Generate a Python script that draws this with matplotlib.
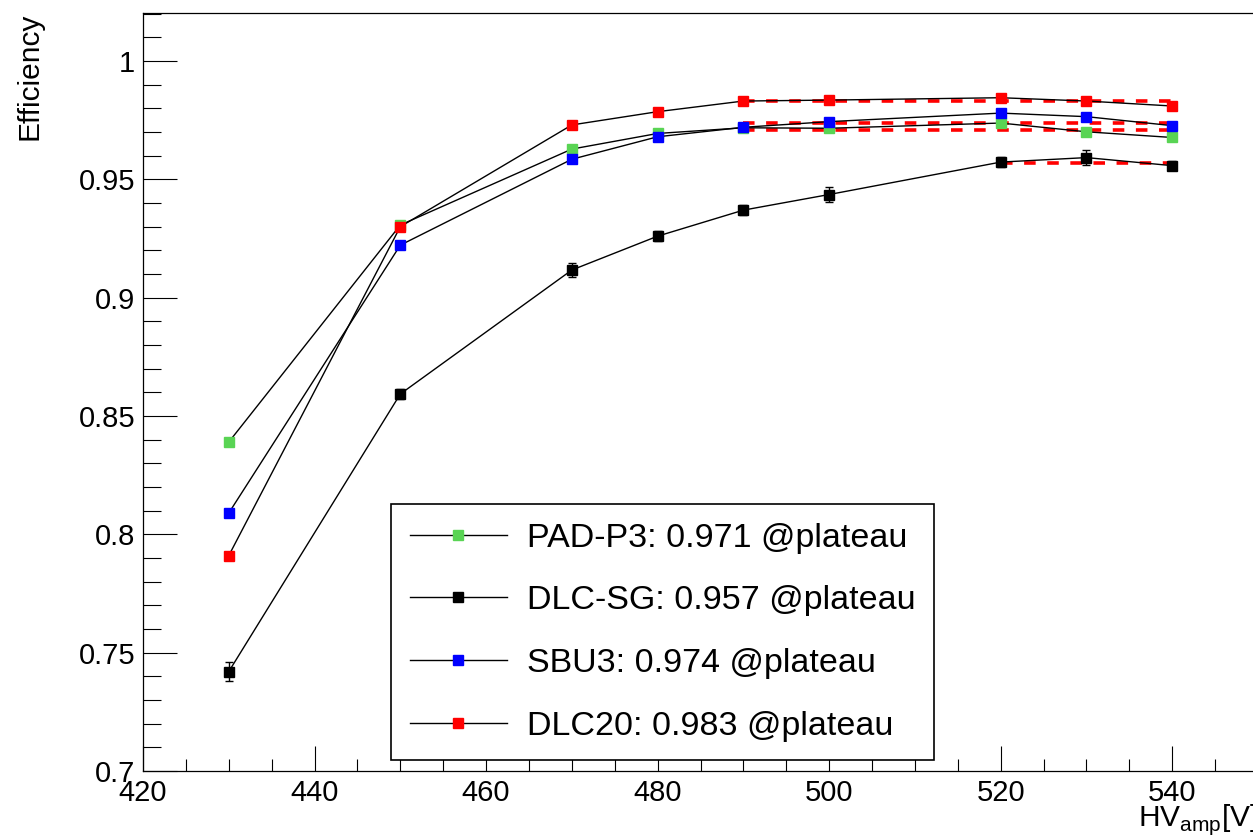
import numpy as np
import matplotlib
matplotlib.use('Agg')
import matplotlib.pyplot as plt
from matplotlib.ticker import MultipleLocator, FuncFormatter

plt.rcParams['font.family'] = ['Liberation Sans', 'DejaVu Sans']
plt.rcParams['mathtext.fontset'] = 'custom'
plt.rcParams['mathtext.rm'] = 'Liberation Sans'

# HV scan points
hv = [430, 450, 470, 480, 490, 500, 520, 530, 540]

pad_p3 = [0.839, 0.9307, 0.9628, 0.9694, 0.9718, 0.9716, 0.9738, 0.9701, 0.9677]
dlc_sg = [0.742, 0.8593, 0.9117, 0.926, 0.937, 0.9436, 0.9573, 0.9592, 0.9558]
sbu3 = [0.809, 0.9222, 0.9585, 0.968, 0.972, 0.9744, 0.978, 0.9765, 0.9727]
dlc20 = [0.791, 0.930, 0.973, 0.9786, 0.9831, 0.9835, 0.9845, 0.9831, 0.981]

err_pad_p3 = [0.0015] * 9
err_dlc_sg = [0.004, 0.002, 0.003, 0.002, 0.002, 0.003, 0.002, 0.003, 0.002]
err_sbu3 = [0.0015] * 9
err_dlc20 = [0.0015] * 9

names = ['PAD-P3', 'DLC-SG', 'SBU3', 'DLC20']
plateau = [0.971, 0.957, 0.974, 0.983]
plateau_start = [490, 520, 490, 490]
plateau_end = 540

series = [pad_p3, dlc_sg, sbu3, dlc20]
errors = [err_pad_p3, err_dlc_sg, err_sbu3, err_dlc20]
colors = ['#59d454', 'black', '#0000ff', '#ff0000']

fig = plt.figure(figsize=(12.53, 8.39), dpi=100)
ax = fig.add_axes([143/1253, 68/839, 1115/1253, 758/839])

handles = []
for vals, err, c, name, pl, x0 in zip(series, errors, colors, names, plateau, plateau_start):
    # constant fit on the plateau
    ax.plot([x0, plateau_end], [pl, pl], color='#ff0000', lw=2.6,
            linestyle=(0, (3.2, 3.2)), zorder=2)
    ax.errorbar(hv, vals, yerr=err, fmt='none', ecolor=c, elinewidth=1,
                capsize=3, capthick=1, zorder=3)
    h, = ax.plot(hv, vals, color='black', lw=1, marker='s', ms=7.3,
                 mfc=c, mec=c, zorder=4,
                 label=f'{name}: {pl:.3f} @plateau')
    handles.append(h)

ax.set_xlim(420, 550)
ax.set_ylim(0.7, 1.0203)

ax.xaxis.set_major_locator(MultipleLocator(20))
ax.xaxis.set_minor_locator(MultipleLocator(5))
ax.yaxis.set_major_locator(MultipleLocator(0.05))
ax.yaxis.set_minor_locator(MultipleLocator(0.01))
ax.yaxis.set_major_formatter(FuncFormatter(lambda v, p: f'{v:g}'))

ax.tick_params(axis='both', which='both', direction='in', width=0.8,
               labelsize=21, top=False, right=False)
ax.tick_params(axis='y', which='major', length=24.5, pad=5.5)
ax.tick_params(axis='y', which='minor', length=13)
ax.tick_params(axis='x', which='major', length=18, pad=6)
ax.tick_params(axis='x', which='minor', length=8.6)
for s in ax.spines.values():
    s.set_linewidth(0.9)

fig.text(30/1253, 1 - 13/839, 'Efficiency', rotation=90, ha='center',
         va='top', fontsize=21.5)
fig.text(1.004, 13/839, r'HV$_{\mathrm{amp}}$[V]', ha='right',
         va='baseline', fontsize=21.5)

leg = ax.legend(handles=handles, loc='upper left',
                bbox_to_anchor=(391/1253, 1 - 504/839),
                bbox_transform=fig.transFigure, borderaxespad=0,
                fontsize=24.5, frameon=True, fancybox=False, shadow=False,
                edgecolor='black', framealpha=1, handlelength=2.85,
                handletextpad=0.6, labelspacing=0.93, borderpad=0.55,
                numpoints=1)
leg.get_frame().set_linewidth(1.2)
for lh in leg.legend_handles:
    lh.set_markersize(7.5)

fig.savefig('out.png', dpi=100)
